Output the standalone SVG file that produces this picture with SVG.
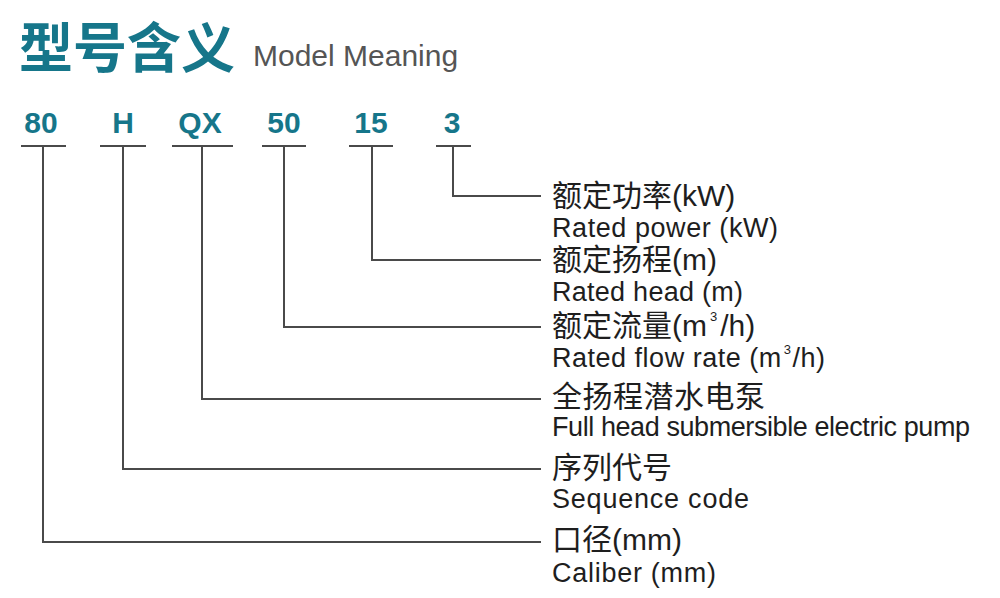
<svg xmlns="http://www.w3.org/2000/svg" width="1000" height="598" viewBox="0 0 1000 598">
<style>
.title{font-family:"Noto Sans CJK SC","Liberation Sans",sans-serif;font-weight:700;font-size:54px;fill:#16768a}
.sub{font-family:"Liberation Sans","Noto Sans CJK SC",sans-serif;font-size:30px;fill:#555}
.code{font-family:"Liberation Sans",Arial,sans-serif;font-weight:700;font-size:30px;fill:#16768a;text-anchor:middle}
.cn{font-family:"Liberation Sans","Noto Sans CJK SC",sans-serif;font-size:30px;fill:#1e1e1e}
.en{font-family:"Liberation Sans",Arial,sans-serif;font-size:27px;fill:#1e1e1e}
.sup{font-size:13px}
.ln{fill:none;stroke:#4a4a4a;stroke-width:2}
</style>
<rect width="1000" height="598" fill="#fff"/>
<g id="header">
<text class="title" x="19" y="68">型号含义</text>
<text class="sub" x="253" y="66">Model Meaning</text>
</g>
<g id="code-80"><text class="code" x="41" y="133">80</text><line class="ln" x1="21" y1="146" x2="66" y2="146"/></g>
<g id="code-H"><text class="code" x="123" y="133">H</text><line class="ln" x1="100" y1="146" x2="146" y2="146"/></g>
<g id="code-QX"><text class="code" x="200" y="133">QX</text><line class="ln" x1="172" y1="146" x2="233" y2="146"/></g>
<g id="code-50"><text class="code" x="284" y="133">50</text><line class="ln" x1="262" y1="146" x2="306" y2="146"/></g>
<g id="code-15"><text class="code" x="371" y="133">15</text><line class="ln" x1="349" y1="146" x2="393" y2="146"/></g>
<g id="code-3"><text class="code" x="452" y="133">3</text><line class="ln" x1="436" y1="146" x2="471" y2="146"/></g>
<g id="connectors">
<polyline class="ln" points="453,146 453,196 541,196"/>
<polyline class="ln" points="372,146 372,260 541,260"/>
<polyline class="ln" points="284,146 284,327 541,327"/>
<polyline class="ln" points="202,146 202,399 541,399"/>
<polyline class="ln" points="123,146 123,469 541,469"/>
<polyline class="ln" points="43,146 43,542 541,542"/>
</g>
<g id="label-power">
<text class="cn" x="552" y="206">额定功率(kW)</text>
<text class="en" x="552" y="237" textLength="226" lengthAdjust="spacing">Rated power (kW)</text>
</g>
<g id="label-head">
<text class="cn" x="552" y="270">额定扬程(m)</text>
<text class="en" x="552" y="301" textLength="191" lengthAdjust="spacing">Rated head (m)</text>
</g>
<g id="label-flow">
<text class="cn" x="552" y="336">额定流量(m<tspan class="sup" dx="3" dy="-15">3</tspan><tspan dx="3" dy="15">/h)</tspan></text>
<text class="en" x="552" y="367" textLength="273" lengthAdjust="spacing">Rated flow rate (m<tspan class="sup" dx="2" dy="-13">3</tspan><tspan dx="1" dy="13">/h)</tspan></text>
</g>
<g id="label-type">
<text class="cn" x="552" y="407" textLength="213" lengthAdjust="spacing">全扬程潜水电泵</text>
<text class="en" x="552" y="436" textLength="418" lengthAdjust="spacing">Full head submersible electric pump</text>
</g>
<g id="label-seq">
<text class="cn" x="552" y="478">序列代号</text>
<text class="en" x="552" y="508" textLength="197" lengthAdjust="spacing">Sequence code</text>
</g>
<g id="label-caliber">
<text class="cn" x="552" y="550">口径(mm)</text>
<text class="en" x="552" y="582" textLength="164" lengthAdjust="spacing">Caliber (mm)</text>
</g>
</svg>
